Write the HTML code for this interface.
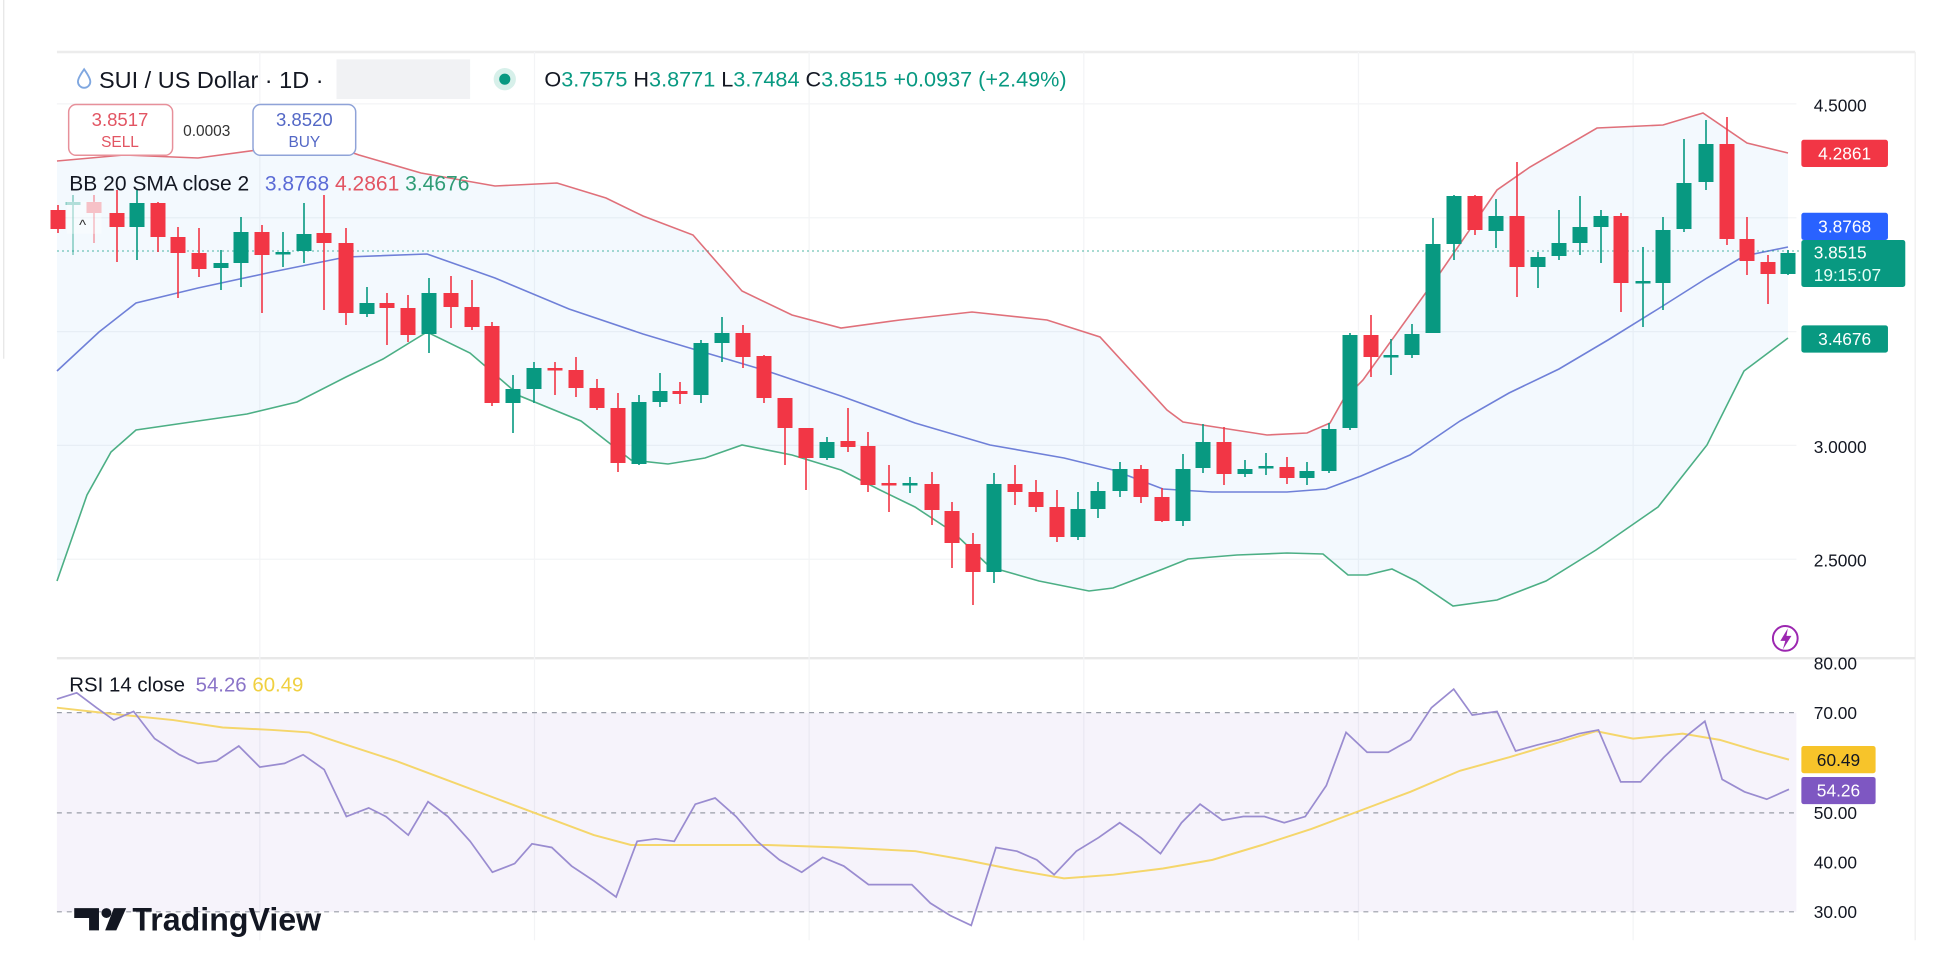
<!DOCTYPE html>
<html><head><meta charset="utf-8"><style>
html,body{margin:0;padding:0;background:#fff;width:1940px;height:968px;overflow:hidden}
svg{display:block}
text{font-family:"Liberation Sans",Arial,sans-serif}
</style></head><body>
<svg width="1940" height="968" viewBox="0 0 1940 968" xmlns="http://www.w3.org/2000/svg">
<rect width="1940" height="968" fill="#fff"/>
<g transform="scale(1.2372)">
  <line x1="3" y1="0" x2="3" y2="290" stroke="#e6e6e6" stroke-width="1"/>
  <line x1="46" y1="42" x2="1548" y2="42" stroke="#ececec" stroke-width="2"/>
  <line x1="1548" y1="42" x2="1548" y2="760" stroke="#efefef" stroke-width="1"/>
  <line x1="46" y1="532" x2="1548" y2="532" stroke="#e8e8e8" stroke-width="2"/>
  <g stroke="#f3f4f6" stroke-width="1">
    <line x1="210" y1="42" x2="210" y2="760"/><line x1="432" y1="42" x2="432" y2="760"/>
    <line x1="654" y1="42" x2="654" y2="760"/><line x1="876" y1="42" x2="876" y2="760"/>
    <line x1="1098" y1="42" x2="1098" y2="760"/><line x1="1320" y1="42" x2="1320" y2="760"/>
    <line x1="46" y1="84" x2="1452" y2="84"/><line x1="46" y1="176" x2="1452" y2="176"/>
    <line x1="46" y1="268" x2="1452" y2="268"/><line x1="46" y1="360" x2="1452" y2="360"/>
    <line x1="46" y1="452" x2="1452" y2="452"/>
  </g>
  <rect x="46" y="576" width="1406" height="161" fill="#7e57c2" fill-opacity="0.07"/>
  <g stroke="#9a9ea8" stroke-width="1" stroke-dasharray="4,4">
    <line x1="46" y1="576" x2="1452" y2="576"/>
    <line x1="46" y1="657" x2="1452" y2="657"/>
    <line x1="46" y1="737" x2="1452" y2="737"/>
  </g>
  <polyline fill="none" stroke="#f5d66b" stroke-width="1.6" points="46,572 100,578 140,582 180,588 220,590 250,592 280,602 320,615 360,630 400,645 440,660 480,675 510,683 560,683 620,683 680,685 740,688 780,695 820,703 860,710 900,707 940,702 980,695 1020,683 1060,670 1100,655 1140,640 1180,623 1220,612 1260,600 1290,591 1320,597 1360,593 1390,598 1420,607 1446,614"/>
  <polyline fill="none" stroke="#9a8cd0" stroke-width="1.4" points="46,565 62,560 78,572 92,582 108,575 125,597 145,610 160,617 175,615 193,603 210,620 230,617 245,610 262,622 280,660 298,653 312,660 330,675 346,648 362,660 380,680 398,705 416,698 430,682 446,685 462,700 480,712 498,725 515,680 530,678 545,680 562,650 578,645 595,660 612,680 630,695 648,705 665,693 682,700 702,715 718,715 737,715 752,730 768,740 785,748 805,685 822,688 838,695 852,707 870,688 888,677 905,665 922,677 938,690 955,665 970,650 988,663 1005,660 1022,660 1038,665 1055,660 1072,635 1088,592 1105,608 1122,608 1140,598 1157,572 1175,557 1190,578 1210,575 1225,607 1243,602 1260,598 1276,593 1292,590 1310,632 1326,632 1345,612 1363,595 1378,583 1392,630 1410,640 1428,646 1446,638"/>
</g>

<polygon fill="#2196f3" fill-opacity="0.055" points="57,161 124,155 198,158 272,148 322,142 359,155 421,173 495,186 557,183 606,198 643,216 693,235 742,291 792,315 841,328 900,320 972,312 1047,320 1100,337 1167,410 1183,422 1267,435 1307,433 1330,423 1343,400 1363,380 1440,273 1497,190 1530,167 1597,128 1663,125 1703,113 1747,143 1788,153 1788,338 1744,371 1707,445 1658,507 1596,550 1546,581 1497,600 1453,606 1416,581 1392,569 1367,575 1348,575 1323,554 1287,553 1237,555 1188,559 1163,569 1113,588 1089,591 1039,581 990,567 953,532 915,507 878,489 841,470 792,455 742,445 705,458 668,464 631,460 581,421 520,396 470,353 427,332 383,359 346,377 297,402 247,414 198,421 136,430 111,452 87,495 57,581"/>
<polyline fill="none" stroke="#e0707a" stroke-width="1.6" points="57,161 124,155 198,158 272,148 322,142 359,155 421,173 495,186 557,183 606,198 643,216 693,235 742,291 792,315 841,328 900,320 972,312 1047,320 1100,337 1167,410 1183,422 1267,435 1307,433 1330,423 1343,400 1363,380 1440,273 1497,190 1530,167 1597,128 1663,125 1703,113 1747,143 1788,153"/>
<polyline fill="none" stroke="#6f80d8" stroke-width="1.6" points="57,371 99,332 136,303 198,288 272,272 346,257 427,254 495,278 569,309 643,334 693,349 767,371 841,396 915,423 990,445 1064,458 1113,470 1163,489 1212,492 1287,492 1326,489 1361,476 1410,455 1460,421 1509,393 1559,369 1608,340 1658,309 1707,278 1744,256 1788,247"/>
<polyline fill="none" stroke="#4caf85" stroke-width="1.6" points="57,581 87,495 111,452 136,430 198,421 247,414 297,402 346,377 383,359 427,332 470,353 520,396 581,421 631,460 668,464 705,458 742,445 792,455 841,470 878,489 915,507 953,532 990,567 1039,581 1089,591 1113,588 1163,569 1188,559 1237,555 1287,553 1323,554 1348,575 1367,575 1392,569 1416,581 1453,606 1497,600 1546,581 1596,550 1658,507 1707,445 1744,371 1788,338"/>
<line x1="57" y1="251" x2="1800" y2="251" stroke="#089981" stroke-width="1" stroke-dasharray="2,3" opacity="0.7"/>

<g opacity="0.45">
<line x1="94" y1="195" x2="94" y2="243" stroke="#f23645" stroke-width="1.6"/><rect x="86.5" y="202" width="15" height="11" fill="#f23645"/>
<line x1="73" y1="195" x2="73" y2="255" stroke="#089981" stroke-width="1.6"/><rect x="65.5" y="202" width="15" height="3" fill="#089981"/>
</g>
<path stroke="#f23645" stroke-width="1.6" fill="none" d="M58 205V233M117 190V262M158 202V252M178 227V298M199 228V277M262 225V313M324 195V310M346 228V325M387 293V345M408 295V342M451 276V328M472 280V330M492 322V406M555 362V395M576 357V397M597 379V410M618 393V472M680 382V404M743 325V368M764 355V403M785 398V465M806 428V490M848 408V452M868 432V492M889 465V512M932 472V525M952 502V568M973 533V605M1015 465V505M1036 480V512M1057 490V542M1141 465V503M1162 488V522M1224 427V485M1287 457V484M1371 315V377M1475 195V235M1517 162V297M1621 213V312M1727 117V245M1747 217V275M1768 255V304"/>
<g fill="#f23645">
<rect x="50.5" y="210" width="15" height="19"/><rect x="109.5" y="213" width="15" height="14"/><rect x="150.5" y="203" width="15" height="34"/><rect x="170.5" y="237" width="15" height="16"/><rect x="191.5" y="253" width="15" height="16"/><rect x="254.5" y="232" width="15" height="23"/><rect x="316.5" y="233" width="15" height="10"/><rect x="338.5" y="243" width="15" height="70"/><rect x="379.5" y="303" width="15" height="5"/><rect x="400.5" y="308" width="15" height="27"/><rect x="443.5" y="293" width="15" height="14"/><rect x="464.5" y="307" width="15" height="20"/><rect x="484.5" y="326" width="15" height="77"/><rect x="547.5" y="368" width="15" height="2.5"/><rect x="568.5" y="370" width="15" height="18"/><rect x="589.5" y="388" width="15" height="20"/><rect x="610.5" y="408" width="15" height="55"/><rect x="672.5" y="391" width="15" height="3"/><rect x="735.5" y="333" width="15" height="24"/><rect x="756.5" y="356" width="15" height="42"/><rect x="777.5" y="398" width="15" height="30"/><rect x="798.5" y="428" width="15" height="30"/><rect x="840.5" y="441" width="15" height="6"/><rect x="860.5" y="446" width="15" height="39"/><rect x="881.5" y="483" width="15" height="2.5"/><rect x="924.5" y="484" width="15" height="26"/><rect x="944.5" y="511" width="15" height="32"/><rect x="965.5" y="544" width="15" height="28"/><rect x="1007.5" y="484" width="15" height="8"/><rect x="1028.5" y="492" width="15" height="15"/><rect x="1049.5" y="507" width="15" height="30"/><rect x="1133.5" y="469" width="15" height="28"/><rect x="1154.5" y="497" width="15" height="24"/><rect x="1216.5" y="442" width="15" height="32"/><rect x="1279.5" y="467" width="15" height="11"/><rect x="1363.5" y="335" width="15" height="22"/><rect x="1467.5" y="196" width="15" height="34"/><rect x="1509.5" y="216" width="15" height="51"/><rect x="1613.5" y="216" width="15" height="67"/><rect x="1719.5" y="144" width="15" height="95"/><rect x="1739.5" y="239" width="15" height="22"/><rect x="1760.5" y="262" width="15" height="12"/>
</g>
<path stroke="#089981" stroke-width="1.6" fill="none" d="M137 190V260M221 250V290M241 217V287M283 232V267M304 203V263M367 287V317M429 278V353M513 375V433M534 362V403M639 395V465M660 373V407M701 340V403M722 317V362M827 437V460M910 477V493M994 473V583M1078 492V540M1098 482V518M1120 462V497M1183 454V526M1203 424V473M1245 460V477M1266 453V475M1307 462V485M1329 423V473M1350 333V430M1391 339V375M1412 324V358M1433 218V333M1454 195V260M1496 199V248M1538 252V288M1559 210V260M1580 196V255M1601 210V263M1643 247V327M1663 217V310M1684 139V232M1706 120V190M1788 250V275"/>
<g fill="#089981">
<rect x="129.5" y="203" width="15" height="24"/><rect x="213.5" y="263" width="15" height="5"/><rect x="233.5" y="232" width="15" height="31"/><rect x="275.5" y="252" width="15" height="2.5"/><rect x="296.5" y="234" width="15" height="17"/><rect x="359.5" y="303" width="15" height="11"/><rect x="421.5" y="293" width="15" height="41"/><rect x="505.5" y="389" width="15" height="14"/><rect x="526.5" y="368" width="15" height="21"/><rect x="631.5" y="402" width="15" height="62"/><rect x="652.5" y="391" width="15" height="11"/><rect x="693.5" y="343" width="15" height="52"/><rect x="714.5" y="333" width="15" height="10"/><rect x="819.5" y="442" width="15" height="16"/><rect x="902.5" y="483" width="15" height="2.5"/><rect x="986.5" y="484" width="15" height="88"/><rect x="1070.5" y="509" width="15" height="28"/><rect x="1090.5" y="491" width="15" height="18"/><rect x="1112.5" y="469" width="15" height="22"/><rect x="1175.5" y="469" width="15" height="52"/><rect x="1195.5" y="442" width="15" height="26"/><rect x="1237.5" y="469" width="15" height="5"/><rect x="1258.5" y="466" width="15" height="2.5"/><rect x="1299.5" y="471" width="15" height="7"/><rect x="1321.5" y="429" width="15" height="42"/><rect x="1342.5" y="335" width="15" height="93"/><rect x="1383.5" y="355" width="15" height="2.5"/><rect x="1404.5" y="334" width="15" height="21"/><rect x="1425.5" y="244" width="15" height="89"/><rect x="1446.5" y="196" width="15" height="48"/><rect x="1488.5" y="216" width="15" height="15"/><rect x="1530.5" y="257" width="15" height="10"/><rect x="1551.5" y="243" width="15" height="13"/><rect x="1572.5" y="227" width="15" height="16"/><rect x="1593.5" y="216" width="15" height="11"/><rect x="1635.5" y="281" width="15" height="2.5"/><rect x="1655.5" y="230" width="15" height="53"/><rect x="1676.5" y="183" width="15" height="46"/><rect x="1698.5" y="144" width="15" height="38"/><rect x="1780.5" y="253" width="15" height="21"/>
</g>

<g transform="scale(1.2372)">
  <path d="M68,56 Q63,63 63,66 A5,5 0 0 0 73,66 Q73,63 68,56 Z" fill="none" stroke="#7fa7e0" stroke-width="1.5"/>
  <text x="80" y="71" font-size="19" fill="#131722">SUI / US Dollar · 1D ·</text>
  <rect x="272" y="48" width="108" height="32" fill="#f1f2f4"/>
  <circle cx="408" cy="64" r="9" fill="#d7f0ea"/>
  <circle cx="408" cy="64" r="4.5" fill="#089981"/>
  <text x="440" y="70" font-size="17.5" fill="#089981"><tspan fill="#131722">O</tspan>3.7575 <tspan fill="#131722">H</tspan>3.8771 <tspan fill="#131722">L</tspan>3.7484 <tspan fill="#131722">C</tspan>3.8515 +0.0937 (+2.49%)</text>
  <rect x="55.5" y="84.5" width="84" height="41" rx="6" fill="#fff" stroke="#e7909a" stroke-width="1.2"/>
  <text x="97" y="102" font-size="15" fill="#e25563" text-anchor="middle">3.8517</text>
  <text x="97" y="119" font-size="12.5" fill="#e25563" text-anchor="middle">SELL</text>
  <text x="148" y="110" font-size="12.5" fill="#333">0.0003</text>
  <rect x="204.5" y="84.5" width="83" height="41" rx="6" fill="#fff" stroke="#8fa3d8" stroke-width="1.2"/>
  <text x="246" y="102" font-size="15" fill="#5468c6" text-anchor="middle">3.8520</text>
  <text x="246" y="119" font-size="12.5" fill="#5468c6" text-anchor="middle">BUY</text>
  <text x="56" y="154" font-size="17" fill="#131722">BB 20 SMA close 2 <tspan dx="8" fill="#5b6bd6">3.8768</tspan> <tspan fill="#e25563">4.2861</tspan> <tspan fill="#2f9c76">3.4676</tspan></text>
  <rect x="54" y="163" width="28" height="26" fill="#fff" fill-opacity="0.35"/>
  <text x="64" y="186" font-size="12" fill="#333">^</text>

  <g font-size="14" fill="#131722">
    <text x="1466" y="90">4.5000</text>
    <text x="1466" y="366">3.0000</text>
    <text x="1466" y="458">2.5000</text>
  </g>
  <rect x="1456" y="113" width="70" height="22" rx="2" fill="#f23645"/>
  <text x="1491" y="129" font-size="14" fill="#fff" text-anchor="middle">4.2861</text>
  <rect x="1456" y="172" width="70" height="22" rx="2" fill="#2962ff"/>
  <text x="1491" y="188" font-size="14" fill="#fff" text-anchor="middle">3.8768</text>
  <rect x="1456" y="194" width="84" height="38" rx="2" fill="#089981"/>
  <text x="1466" y="209" font-size="14" fill="#fff">3.8515</text>
  <text x="1466" y="227" font-size="14" fill="#e6fff7">19:15:07</text>
  <rect x="1456" y="263" width="70" height="22" rx="2" fill="#089981"/>
  <text x="1491" y="279" font-size="14" fill="#fff" text-anchor="middle">3.4676</text>
  <circle cx="1443" cy="516" r="10" fill="none" stroke="#9c27b0" stroke-width="1.6"/>
  <path d="M1445,508 L1439,518 L1443,518 L1441,525 L1448,514 L1444,514 Z" fill="#9c27b0"/>

  <text x="56" y="559" font-size="16.5" fill="#131722">RSI 14 close <tspan dx="4" fill="#8a74c8">54.26</tspan> <tspan fill="#f0d040">60.49</tspan></text>
  <g font-size="14" fill="#131722">
    <text x="1466" y="541">80.00</text>
    <text x="1466" y="581">70.00</text>
    <text x="1466" y="662">50.00</text>
    <text x="1466" y="702">40.00</text>
    <text x="1466" y="742">30.00</text>
  </g>
  <rect x="1456" y="603" width="60" height="22" rx="2" fill="#f7c42a"/>
  <text x="1486" y="619" font-size="14" fill="#131722" text-anchor="middle">60.49</text>
  <rect x="1456" y="628" width="60" height="22" rx="2" fill="#7e57c2"/>
  <text x="1486" y="644" font-size="14" fill="#fff" text-anchor="middle">54.26</text>

  <path d="M60,734 H80 V752 H72 V742 H60 Z" fill="#131722"/>
  <circle cx="86" cy="738" r="4" fill="#131722"/>
  <path d="M92,734 H102 L94,752 H85 Z" fill="#131722"/>
  <text x="107" y="752" font-size="26" font-weight="bold" fill="#131722">TradingView</text>
</g>
</svg>
</body></html>
